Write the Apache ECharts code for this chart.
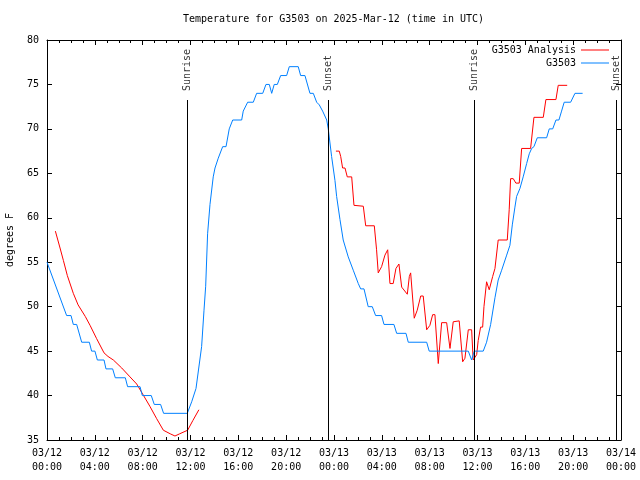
<!DOCTYPE html>
<html>
<head>
<meta charset="utf-8">
<script src="https://cdn.jsdelivr.net/npm/echarts@6/dist/echarts.min.js"></script>
<style>html,body{margin:0;padding:0;background:#fff}#c{width:640px;height:480px}</style>
</head>
<body>
<div id="c"></div>
<script>
// Hours since 03/12 00:00 UTC
const xTickLabels = ['03/12\n00:00','03/12\n04:00','03/12\n08:00','03/12\n12:00','03/12\n16:00','03/12\n20:00',
  '03/13\n00:00','03/13\n04:00','03/13\n08:00','03/13\n12:00','03/13\n16:00','03/13\n20:00','03/14\n00:00'];

// G3503 observations [hour, degF]
const g3503 = [
 [0,55],[1.64,49],[2.01,49],[2.20,48],[2.48,48],[2.90,46],[3.54,46],[3.73,45],[4.01,45],[4.21,44],[4.77,44],
 [4.93,43],[5.49,43],[5.71,42],[6.55,42],[6.74,41],[7.78,41],[7.97,40],[8.72,40],[8.97,39],[9.50,39],
 [9.75,38],[11.73,38],[12.1,39.3],[12.46,40.8],[12.93,45.5],[13.13,49.6],[13.27,52.3],[13.43,58.2],
 [13.63,61.5],[13.9,64.6],[14.05,65.6],[14.32,66.7],[14.69,68],[14.97,68],[15.24,70],[15.53,71],[16.28,71],
 [16.41,72],[16.78,73],[17.25,73],[17.53,74],[18.04,74],[18.31,75],[18.59,75],[18.79,74],[19.0,75],[19.26,75],
 [19.54,76],[20.04,76],[20.26,77],[21.01,77],[21.21,76],[21.57,76],[21.99,74],[22.27,74],[22.55,73],
 [22.77,72.7],[23.05,72],[23.39,71],[23.52,70],[23.80,66.9],[24.08,64.2],[24.22,62.4],[24.5,59.8],
 [24.77,57.5],[25.19,55.6],[25.61,54.1],[26.03,52.6],[26.23,52],[26.51,52],[26.86,50],[27.2,50],[27.48,49],
 [27.98,49],[28.18,48],[29.01,48],[29.24,47],[30.02,47],[30.21,46],[31.75,46],[31.96,45],[35.23,45],
 [35.51,44],[35.73,45],[36.48,45],[36.76,46],[37.1,48],[37.46,51],[37.73,53],[38.02,54.1],[38.44,55.8],
 [38.71,56.9],[38.91,59.2],[39.13,61.2],[39.27,62.4],[39.55,63.3],[39.82,64.6],[40.11,66.1],[40.33,67.2],
 [40.53,67.8],[40.72,68],[41.0,69],[41.78,69],[42.0,70],[42.29,70],[42.56,71],[42.81,71],[43.03,72],
 [43.25,73],[43.79,73],[44.15,74],[44.79,74]
];

// G3503 Analysis, first run [hour, degF]
const analysisA = [
 [0.7,58.5],[1.09,56.6],[1.37,55.2],[1.7,53.5],[2.2,51.5],[2.6,50.2],[3.2,48.9],[3.6,47.9],[4.15,46.4],
 [4.77,44.8],[5.1,44.4],[5.55,44.0],[6.25,43.1],[6.94,42.1],[7.5,41.3],[7.9,40.4],[8.6,38.8],[9.17,37.4],
 [9.73,36.1],[10.3,35.7],[10.7,35.45],[11.1,35.7],[11.76,36.1],[12.2,37.2],[12.7,38.4]
];

// G3503 Analysis, second run [hour, degF]
const analysisB = [
 [24.16,67.5],[24.44,67.5],[24.56,66.9],[24.72,65.6],[24.92,65.6],[25.11,64.6],[25.48,64.6],[25.67,61.4],
 [26.45,61.3],[26.65,59.1],[27.37,59.1],[27.56,56.4],[27.7,53.8],[27.98,54.5],[28.26,55.8],[28.49,56.4],
 [28.68,52.6],[28.95,52.6],[29.18,54.3],[29.43,54.8],[29.66,52.2],[30.13,51.4],[30.3,53.4],[30.41,53.8],
 [30.71,48.7],[30.96,49.6],[31.25,51.2],[31.46,51.2],[31.75,47.4],[32.02,47.9],[32.25,49.1],[32.44,49.1],
 [32.72,43.6],[33.0,48.2],[33.42,48.2],[33.7,45.3],[33.97,48.3],[34.47,48.4],[34.76,43.8],[34.95,44.2],
 [35.23,47.4],[35.51,47.4],[35.64,44.0],[35.93,44.6],[36.06,46.2],[36.26,47.7],[36.43,47.7],[36.54,50],
 [36.76,52.8],[36.98,51.9],[37.27,53.4],[37.46,54.3],[37.73,57.5],[38.49,57.5],[38.65,60.9],[38.77,64.4],
 [38.99,64.4],[39.21,63.9],[39.49,63.9],[39.69,67.8],[40.44,67.8],[40.72,71.3],[41.5,71.3],[41.72,73.3],
 [42.56,73.3],[42.75,74.9],[43.5,74.9]
];

const sunNames = ['Sunrise','Sunset','Sunrise','Sunset'];
const sunHours = [11.76, 23.52, 35.73, 47.58];
const sunLineTop = 73.25;
const sunLabelBase = 74.15;

const FONT = 'DejaVu Sans Mono';
const chart = echarts.init(document.getElementById('c'), null, {renderer:'canvas'});

const xAxisCommon = {
  type:'value', min:0, max:48, interval:4,
  axisLine:{show:true, onZero:false, lineStyle:{color:'#000', width:1}},
  axisTick:{show:true, inside:true, length:5, lineStyle:{color:'#000'}},
  minorTick:{show:true, splitNumber:4, length:3, lineStyle:{color:'#000'}},
  splitLine:{show:false}, minorSplitLine:{show:false}
};
const yAxisCommon = {
  type:'value', min:35, max:80, interval:5,
  axisLine:{show:true, onZero:false, lineStyle:{color:'#000', width:1}},
  axisTick:{show:true, inside:true, length:5, lineStyle:{color:'#000'}},
  splitLine:{show:false}
};

chart.setOption({
  animation:false,
  backgroundColor:'#fff',
  title:{
    text:'Temperature for G3503 on 2025-Mar-12 (time in UTC)',
    left:183, top:14, padding:0,
    textStyle:{fontFamily:FONT, fontSize:10, fontWeight:'normal', color:'#000'}
  },
  legend:{
    data:['G3503 Analysis','G3503'],
    orient:'vertical', right:26, top:39, align:'right',
    icon:'rect', itemWidth:28, itemHeight:1, itemGap:1,
    textStyle:{fontFamily:FONT, fontSize:10, color:'#000', lineHeight:12}
  },
  grid:{left:47, right:19, top:40, bottom:40, containLabel:false, outerBoundsMode:'none'},
  xAxis:[
    Object.assign({}, xAxisCommon, {
      position:'bottom',
      axisLabel:{show:true, margin:6, lineHeight:14, fontFamily:FONT, fontSize:10, color:'#000',
        formatter:v => xTickLabels[Math.round(v/4)]}
    }),
    Object.assign({}, xAxisCommon, {position:'top', axisLabel:{show:false}})
  ],
  yAxis:[
    Object.assign({}, yAxisCommon, {
      position:'left',
      name:'degrees F', nameLocation:'middle', nameRotate:90, nameGap:32,
      nameTextStyle:{fontFamily:FONT, fontSize:10, color:'#000'},
      axisLabel:{show:true, margin:8, fontFamily:FONT, fontSize:10, color:'#000'}
    }),
    Object.assign({}, yAxisCommon, {position:'right', axisLabel:{show:false}})
  ],
  series:[
    {
      name:'sun', type:'scatter', xAxisIndex:0, yAxisIndex:0, silent:true,
      symbolSize:1, itemStyle:{color:'rgba(0,0,0,0)'},
      data: sunHours.map((h,i) => ({name:sunNames[i], value:[h, sunLabelBase]})),
      label:{show:true, formatter:p => p.name, position:'inside', rotate:90, align:'left', verticalAlign:'middle',
        offset:[1,0], fontFamily:FONT, fontSize:10, color:'#000'},
      markLine:{
        silent:true, symbol:['none','none'], animation:false,
        label:{show:false},
        lineStyle:{color:'#000', width:1, type:'solid'},
        data: sunHours.map(h => [{coord:[h,35]},{coord:[h,sunLineTop]}])
      }
    },
    {
      name:'G3503 Analysis', type:'line', data:analysisA, showSymbol:false, symbol:'none',
      lineStyle:{color:'#ff0000', width:1}, itemStyle:{color:'#ff0000'}
    },
    {
      name:'G3503 Analysis', type:'line', data:analysisB, showSymbol:false, symbol:'none',
      lineStyle:{color:'#ff0000', width:1}, itemStyle:{color:'#ff0000'}
    },
    {
      name:'G3503', type:'line', data:g3503, showSymbol:false, symbol:'none',
      lineStyle:{color:'#0080ff', width:1}, itemStyle:{color:'#0080ff'}
    }
  ]
});
</script>
</body>
</html>
